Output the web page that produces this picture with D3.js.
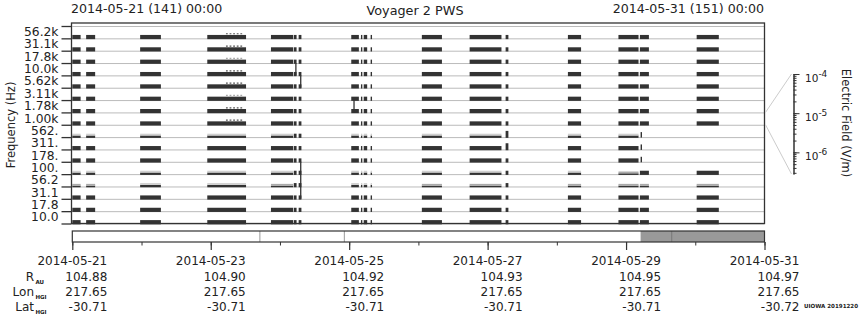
<!DOCTYPE html>
<html>
<head>
<meta charset="utf-8">
<script src="https://cdn.jsdelivr.net/npm/d3@7"></script>
<style>
  body { margin: 0; background: #fff; }
  text { font-family: "DejaVu Sans", sans-serif; fill: #222; }
</style>
</head>
<body>
<script>
// channel labels, top to bottom
const channels = ["56.2k", "31.1k", "17.8k", "10.0k", "5.62k", "3.11k", "1.78k", "1.00k",
                  "562.", "311.", "178.", "100.", "56.2", "31.1", "17.8", "10.0"];

// observation segments, in days after 2014-05-21 00:00
const segments = [
  [0.00, 0.12], [0.20, 0.33], [0.98, 1.28], [1.95, 2.51], [2.87, 3.19], [3.20, 3.24],
  [3.27, 3.31], [4.03, 4.14], [4.17, 4.19], [4.21, 4.26], [4.31, 4.33], [5.05, 5.34],
  [5.74, 6.20], [6.26, 6.30], [7.16, 7.35], [7.89, 8.18], [8.20, 8.33], [9.02, 9.34]
];

// intensity per channel and segment: 0 none, 1 faint, 2 weak, 3 strong, 4 burst
const intensity = [
  [3,3,3,3,3,3,3,3,3,3,3,3,3,3,3,3,3,3],
  [3,3,3,3,3,3,3,3,3,3,3,3,3,3,3,3,3,3],
  [3,3,3,3,3,3,3,3,3,3,3,3,3,3,3,3,3,3],
  [3,3,3,3,3,3,3,3,3,3,3,3,3,3,3,3,3,3],
  [3,3,3,3,3,3,3,3,3,3,3,3,3,3,3,3,3,3],
  [3,3,3,3,3,3,3,3,3,3,3,3,3,3,3,3,3,3],
  [3,3,3,3,3,3,3,3,3,3,3,3,3,3,3,3,3,3],
  [3,3,3,3,3,3,3,3,3,3,3,3,3,3,3,3,3,3],
  [2,2,2,2,2,3,3,2,2,2,2,2,2,4,2,2,0,0],
  [3,3,3,3,3,3,3,3,3,3,3,3,3,4,3,3,0,0],
  [3,3,3,3,3,3,3,3,3,3,3,3,3,3,3,3,0,0],
  [2,2,2,2,2,3,3,2,2,2,2,2,2,3,2,1,3,3],
  [1,1,2,2,1,3,3,2,2,2,2,1,1,3,1,1,1,1],
  [3,3,3,3,3,3,3,3,3,3,3,3,3,3,3,3,3,3],
  [3,3,3,3,3,3,3,3,3,3,3,3,3,3,3,3,3,3],
  [3,3,3,3,3,3,3,3,3,3,3,3,3,3,3,3,3,3]
];

// sparse bursts above segment 3 in the upper channels [startDay, endDay, lastChannel]
const dotted = [[2.22, 2.47, 7]];
// short spikes [day, channel]
const spikes = [[8.21, 8], [8.21, 9], [8.21, 10]];
// vertical connections [day, fromChannel, toChannel]
const vlines = [[3.23, 2, 3], [3.30, 3, 4], [3.30, 10, 13], [4.07, 5, 6]];

// time-bar
const timeMarks = [2.71, 3.93, 8.66];
const timeGray = [8.21, 10];

// ephemeris table
const dates = ["2014-05-21", "2014-05-23", "2014-05-25", "2014-05-27", "2014-05-29", "2014-05-31"];
const rAU = ["104.88", "104.90", "104.92", "104.93", "104.95", "104.97"];
const lonHGI = ["217.65", "217.65", "217.65", "217.65", "217.65", "217.65"];
const latHGI = ["-30.71", "-30.71", "-30.71", "-30.71", "-30.71", "-30.72"];

// colorbar decades
const eDecades = [1e-6, 1e-5, 1e-4];

const width = 860, height = 320;
const x0 = 72.3, x1 = 764.5, yTop = 23, yBottom = 223.5;
const dark = "#333", gray = "#bbb";

const t0 = new Date(Date.UTC(2014, 4, 21));
const t1 = new Date(Date.UTC(2014, 4, 31));
const toDate = d => new Date(t0.getTime() + d * 864e5);

const svg = d3.select("body").append("svg")
  .attr("width", width).attr("height", height);

const x = d3.scaleUtc().domain([t0, t1]).range([x0, x1]);
const y = d3.scaleBand().domain(channels).range([26, yBottom]);
const bw = y.bandwidth();
const base = ch => y(ch) + bw;

// grid baselines
const bounds = [y(channels[0])].concat(channels.map(base));
svg.append("g").selectAll("line").data(bounds).enter().append("line")
  .attr("x1", x0).attr("x2", x1)
  .attr("y1", d => d + 0.5).attr("y2", d => d + 0.5)
  .attr("stroke", gray).attr("stroke-width", 1);

// outside ticks
svg.append("g").selectAll("line").data(bounds).enter().append("line")
  .attr("x1", 61.5).attr("x2", 71.5)
  .attr("y1", d => d + 0.5).attr("y2", d => d + 0.5)
  .attr("stroke", dark).attr("stroke-width", 1.3);

// bars
const bars = svg.append("g");
intensity.forEach((row, ci) => {
  const b = base(channels[ci]) + 0.8;
  row.forEach((lv, si) => {
    if (!lv) return;
    const s = segments[si];
    const xa = x(toDate(s[0])), w = Math.max(1.2, x(toDate(s[1])) - xa);
    if (lv >= 3) {
      const h = lv === 4 ? 7 : 4.2;
      bars.append("rect").attr("x", xa).attr("y", b - h).attr("width", w).attr("height", h).attr("fill", dark);
    } else {
      const dh = lv === 2 ? 2.4 : 1.6;
      bars.append("rect").attr("x", xa).attr("y", b - dh).attr("width", w).attr("height", dh).attr("fill", dark);
      bars.append("rect").attr("x", xa).attr("y", b - dh - 1.8).attr("width", w).attr("height", 1.8)
        .attr("fill", lv === 2 ? "#d0d0d0" : "#aaa");
    }
  });
});

// dotted bursts
dotted.forEach(dd => {
  for (let ci = 0; ci <= dd[2]; ci++) {
    const yy = base(channels[ci]) - 4.6;
    bars.append("line")
      .attr("x1", x(toDate(dd[0]))).attr("x2", x(toDate(dd[1])))
      .attr("y1", yy).attr("y2", yy)
      .attr("stroke", ci % 3 === 2 ? "#aaa" : "#555").attr("stroke-width", 1.2)
      .attr("stroke-dasharray", "1.8,1.8");
  }
});

// spikes
bars.selectAll(".spike").data(spikes).enter().append("rect")
  .attr("x", d => x(toDate(d[0]))).attr("y", d => base(channels[d[1]]) - 5)
  .attr("width", 1.4).attr("height", 5.5).attr("fill", dark);

// vertical connections
bars.selectAll(".vl").data(vlines).enter().append("line")
  .attr("x1", d => x(toDate(d[0]))).attr("x2", d => x(toDate(d[0])))
  .attr("y1", d => base(channels[d[1]])).attr("y2", d => base(channels[d[2]]))
  .attr("stroke", dark).attr("stroke-width", 1.3);

// frame
svg.append("rect").attr("x", 71.5).attr("y", yTop).attr("width", x1 - 71.5).attr("height", yBottom - yTop)
  .attr("fill", "none").attr("stroke", dark).attr("stroke-width", 1.3);

// frequency labels
svg.append("g").attr("transform", "translate(71.5,0)")
  .call(d3.axisLeft(y).tickSize(0).tickPadding(13))
  .call(g => g.select(".domain").remove())
  .selectAll("text").style("font-size", "12.3px").style("font-family", "DejaVu Sans").attr("fill", "#222");

svg.append("text").attr("transform", "translate(14.5,125) rotate(-90)")
  .attr("text-anchor", "middle").style("font-size", "11.5px").text("Frequency (Hz)");

// titles
svg.append("text").attr("x", 71).attr("y", 13).style("font-size", "12.6px").text("2014-05-21 (141) 00:00");
svg.append("text").attr("x", 415).attr("y", 15).attr("text-anchor", "middle").style("font-size", "12.8px").text("Voyager 2 PWS");
svg.append("text").attr("x", 764).attr("y", 13).attr("text-anchor", "end").style("font-size", "12.6px").text("2014-05-31 (151) 00:00");

// colorbar
const ax = 793.5;
const e = d3.scaleLog().domain([2.8e-7, 1e-4]).range([174, 74]);
svg.append("g").attr("transform", `translate(${ax},0)`)
  .call(d3.axisRight(e).tickValues(e.ticks()).tickSize(3).tickSizeOuter(0).tickFormat(""))
  .call(g => g.selectAll("line,path").attr("stroke", dark));
svg.append("g").attr("transform", `translate(${ax},0)`)
  .call(d3.axisRight(e).tickValues(eDecades).tickSize(6).tickSizeOuter(0).tickFormat(""))
  .call(g => g.selectAll("line,path").attr("stroke", dark));
eDecades.forEach(v => {
  const t = svg.append("text").attr("x", 805).attr("y", e(v) + 8).style("font-size", "10.5px");
  t.append("tspan").text("10");
  t.append("tspan").attr("dy", -5.5).style("font-size", "9px").text(Math.log10(v).toFixed(0));
});
const ch8 = channels[7];
svg.append("line").attr("x1", x1 + 1).attr("y1", y(ch8)).attr("x2", ax - 2).attr("y2", e.range()[1])
  .attr("stroke", "#ccc");
svg.append("line").attr("x1", x1 + 1).attr("y1", base(ch8)).attr("x2", ax - 2).attr("y2", e.range()[0])
  .attr("stroke", "#ccc");
svg.append("text").attr("transform", "translate(842,123) rotate(90)")
  .attr("text-anchor", "middle").style("font-size", "11.5px").text("Electric Field (V/m)");

// time bar
svg.append("rect").attr("x", x(toDate(timeGray[0]))).attr("y", 231)
  .attr("width", x(toDate(timeGray[1])) - x(toDate(timeGray[0]))).attr("height", 11).attr("fill", "#999");
svg.selectAll(".tm").data(timeMarks).enter().append("line")
  .attr("x1", d => x(toDate(d))).attr("x2", d => x(toDate(d)))
  .attr("y1", 231).attr("y2", 242).attr("stroke", d => d > timeGray[0] ? "#777" : "#999");
svg.append("rect").attr("x", x0).attr("y", 231).attr("width", x1 - x0).attr("height", 11)
  .attr("fill", "none").attr("stroke", dark).attr("stroke-width", 1.2);

svg.append("g").attr("transform", "translate(0,242)")
  .call(d3.axisBottom(x).ticks(d3.utcDay.every(1)).tickSize(3.5).tickFormat(""))
  .call(g => g.select(".domain").remove())
  .call(g => g.selectAll("line").attr("stroke", dark));
svg.append("g").attr("transform", "translate(0,242)")
  .call(d3.axisBottom(x).tickValues(dates.map(d => new Date(d + "T00:00:00Z"))).tickSize(8).tickFormat(""))
  .call(g => g.select(".domain").remove())
  .call(g => g.selectAll("line").attr("stroke", dark).attr("stroke-width", 1.2));

// ephemeris table
const tx = dates.map(d => x(new Date(d + "T00:00:00Z")));
const rows = [[dates, 265], [rAU, 281], [lonHGI, 296], [latHGI, 311]];
rows.forEach(([vals, yy], ri) => {
  svg.append("g").selectAll("text").data(vals).enter().append("text")
    .attr("x", (d, i) => ri === 0 ? tx[i] : tx[i] + 35)
    .attr("y", yy)
    .attr("text-anchor", ri === 0 ? "middle" : "end")
    .style("font-size", "12px").text(d => d);
});
[["R", "AU", 281], ["Lon", "HGI", 296], ["Lat", "HGI", 311]].forEach(([m, s, yy]) => {
  svg.append("text").attr("x", 34).attr("y", yy).attr("text-anchor", "end").style("font-size", "12px").text(m);
  svg.append("text").attr("x", 35.5).attr("y", yy + 3).style("font-size", "5.5px").style("font-weight", "bold").text(s);
});

svg.append("text").attr("x", 804).attr("y", 307.5).style("font-size", "5.6px").style("font-weight", "bold")
  .attr("textLength", 54).attr("lengthAdjust", "spacingAndGlyphs")
  .text("UIOWA 20191220");
</script>
</body>
</html>
